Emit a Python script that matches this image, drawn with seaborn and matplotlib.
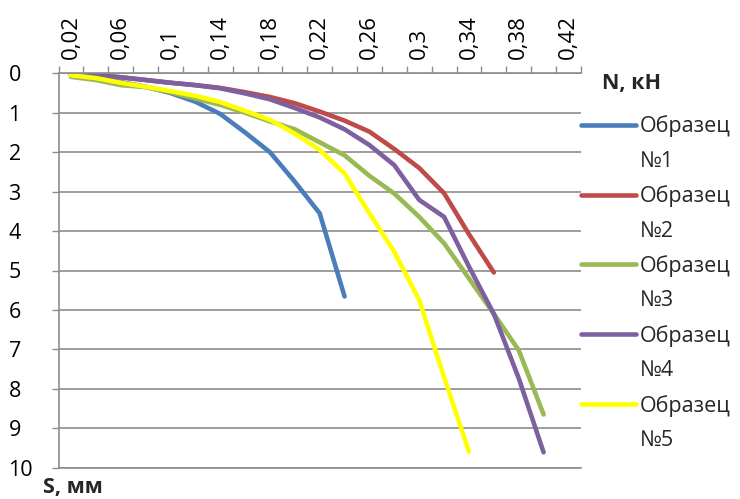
import numpy as np
import pandas as pd
import matplotlib
matplotlib.use("Agg")
import matplotlib.pyplot as plt
import seaborn as sns
from matplotlib.lines import Line2D

# ---- data ----
N_kN = [0.02, 0.04, 0.06, 0.08, 0.10, 0.12, 0.14, 0.16, 0.18, 0.20, 0.22,
        0.24, 0.26, 0.28, 0.30, 0.32, 0.34, 0.36, 0.38, 0.40, 0.42]

s1 = [0.05, 0.10, 0.22, 0.34, 0.50, 0.72, 1.03, 1.50, 2.00, 2.75, 3.55, 5.66]
s2 = [0.02, 0.05, 0.10, 0.17, 0.24, 0.30, 0.37, 0.48, 0.60, 0.76, 0.97, 1.20,
      1.48, 1.92, 2.40, 3.04, 4.08, 5.05]
s3 = [0.09, 0.17, 0.30, 0.35, 0.48, 0.64, 0.80, 1.00, 1.22, 1.42, 1.75, 2.08,
      2.60, 3.05, 3.64, 4.31, 5.20, 6.10, 7.02, 8.65]
s4 = [0.02, 0.05, 0.10, 0.17, 0.24, 0.30, 0.38, 0.51, 0.66, 0.88, 1.12, 1.42,
      1.82, 2.33, 3.21, 3.64, 4.90, 6.10, 7.73, 9.61]
s5 = [0.05, 0.12, 0.24, 0.34, 0.45, 0.57, 0.73, 0.95, 1.18, 1.53, 1.94, 2.54,
      3.55, 4.53, 5.75, 7.70, 9.59]

series_names = ["Образец №1", "Образец №2", "Образец №3", "Образец №4", "Образец №5"]
series_values = [s1, s2, s3, s4, s5]
colors = ["#4A7EBB", "#BE4B48", "#98B954", "#7D60A0", "#FFFF00"]

x_tick_values = [0.02, 0.06, 0.10, 0.14, 0.18, 0.22, 0.26, 0.30, 0.34, 0.38, 0.42]
x_tick_labels = ["0,02", "0,06", "0,1", "0,14", "0,18", "0,22", "0,26", "0,3", "0,34", "0,38", "0,42"]
y_ticks = [0, 1, 2, 3, 4, 5, 6, 7, 8, 9, 10]

rows = []
for name, vals in zip(series_names, series_values):
    for x, y in zip(N_kN, vals):
        rows.append({"N": x, "S": y, "series": name})
df = pd.DataFrame(rows)

# ---- styling ----
sns.set_theme(style="white")
plt.rcParams['font.family'] = ['Open Sans', 'DejaVu Sans']
FS = 15.5
GRID = "#8c8c8c"

W, H = 740, 499
fig = plt.figure(figsize=(W / 100, H / 100), dpi=100)
L, R, T, B = 58.5, 580.9, 73.3, 467.7
ax = fig.add_axes([L / W, 1 - B / H, (R - L) / W, (B - T) / H])

sns.lineplot(data=df, x="N", y="S", hue="series", hue_order=series_names,
             palette=colors, estimator=None, sort=False, linewidth=3.3,
             solid_capstyle="round", solid_joinstyle="round", ax=ax, legend=False)

ax.set_xlim(0.01, 0.43)
ax.set_ylim(10, 0)
ax.set_xlabel("")
ax.set_ylabel("")

# x axis on top
ax.xaxis.tick_top()
ax.set_xticks(x_tick_values)
ax.set_xticklabels(x_tick_labels, rotation=90, fontsize=16, color="black")
ax.set_xticks(np.arange(0.01, 0.4301, 0.02), minor=True)
ax.tick_params(axis="x", which="major", length=0, pad=10, top=True, bottom=False)
ax.tick_params(axis="x", which="minor", length=5, width=1, color=GRID,
               direction="out", top=True, bottom=False)

# y axis
ax.set_yticks(y_ticks)
ax.set_yticklabels([str(v) for v in y_ticks], fontsize=FS, color="black")
ax.tick_params(axis="y", which="major", length=5, width=1, color=GRID,
               direction="out", left=True, pad=31)
for lab in ax.get_yticklabels():
    lab.set_horizontalalignment("left")

ax.grid(axis="y", color=GRID, linewidth=1.2)
ax.grid(axis="x", visible=False)
for side in ["top", "left", "bottom"]:
    ax.spines[side].set_color(GRID)
    ax.spines[side].set_linewidth(1.2)
ax.spines["right"].set_visible(False)

# legend: name on first row, number on second row
handles, labels = [], []
for name, c in zip(series_names, colors):
    first, second = name.split(" ")
    handles.append(Line2D([], [], color=c, linewidth=3.3, solid_capstyle="round"))
    labels.append(first)
    handles.append(Line2D([], [], color="none"))
    labels.append(second)
fig.legend(handles, labels, loc="upper left",
           bbox_to_anchor=(581 / W, 1 - 115.5 / H),
           frameon=False, fontsize=FS, borderpad=0, borderaxespad=0,
           handlelength=2.55, handletextpad=0.2, labelspacing=0.625)

fig.text(601.7 / W, 1 - 83.3 / H, "N, кН", fontsize=FS, fontweight="bold",
         ha="left", va="center")
fig.text(43.3 / W, 1 - 487.5 / H, "S, мм", fontsize=FS, fontweight="bold",
         ha="left", va="center")

fig.savefig("out.png", dpi=100)
